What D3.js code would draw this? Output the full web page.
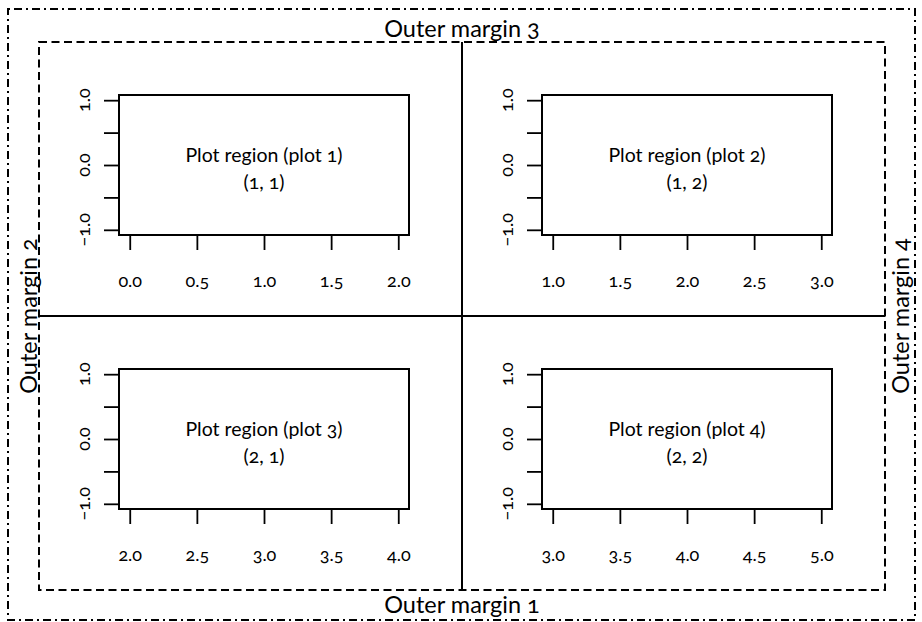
<!DOCTYPE html>
<html><head><meta charset="utf-8">
<script src="https://cdn.jsdelivr.net/npm/d3@7"></script>
<style>
body{margin:0;background:#fff;}
text{font-family:Lato,"Open Sans",sans-serif;font-variant-numeric:oldstyle-nums;fill:#000;}
</style></head>
<body>
<svg id="c" width="922" height="622"></svg>
<script>
// ---- data ----
const plotTitles = ["Plot region (plot 1)","Plot region (plot 2)","Plot region (plot 3)","Plot region (plot 4)"];
const plotCells  = ["(1, 1)","(1, 2)","(2, 1)","(2, 2)"];
const panelRows  = [0,0,1,1];
const panelCols  = [0,1,0,1];
const xDomains   = [[0,2],[1,3],[2,4],[3,5]];
const xTickVals  = [[0,0.5,1,1.5,2],[1,1.5,2,2.5,3],[2,2.5,3,3.5,4],[3,3.5,4,4.5,5]];
const yDomain    = [-1,1];
const yTickVals  = [-1,-0.5,0,0.5,1];
const yLabelVals = [-1,0,1];
const outerLabels = ["Outer margin 1","Outer margin 2","Outer margin 3","Outer margin 4"];

// ---- layout ----
const svg = d3.select("#c");
const outerBox = {x0:8, y0:9, x1:915, y1:620};
const inner = {x0:39, y0:42, x1:885, y1:590};
const midX = (inner.x0+inner.x1)/2, midY = (inner.y0+inner.y1)/2;
const cellW = midX - inner.x0, cellH = midY - inner.y0;
const mar = {l:80, r:53, t:53, b:81};
const ext = v => { const d=(v[1]-v[0])*0.04; return [v[0]-d, v[1]+d]; };
const tickFont = 18, panelFont = 19.5, outerFont = 23.5;

// outer dot-dash box
svg.append("rect").attr("x",outerBox.x0).attr("y",outerBox.y0)
  .attr("width",outerBox.x1-outerBox.x0).attr("height",outerBox.y1-outerBox.y0)
  .attr("fill","none").attr("stroke","#000").attr("stroke-width",2)
  .attr("stroke-dasharray","2,4,8,4");

// inner dashed box
svg.append("rect").attr("x",inner.x0).attr("y",inner.y0)
  .attr("width",inner.x1-inner.x0).attr("height",inner.y1-inner.y0)
  .attr("fill","none").attr("stroke","#000").attr("stroke-width",2)
  .attr("stroke-dasharray","8,4.5");

// dividers
svg.append("line").attr("x1",midX).attr("x2",midX).attr("y1",inner.y0).attr("y2",inner.y1)
  .attr("stroke","#000").attr("stroke-width",2);
svg.append("line").attr("x1",inner.x0).attr("x2",inner.x1).attr("y1",midY).attr("y2",midY)
  .attr("stroke","#000").attr("stroke-width",2);

// panels
plotTitles.forEach((title,i)=>{
  const fx = inner.x0 + panelCols[i]*cellW, fy = inner.y0 + panelRows[i]*cellH;
  const bx0 = fx+mar.l, bx1 = fx+cellW-mar.r, by0 = fy+mar.t, by1 = fy+cellH-mar.b;
  const x = d3.scaleLinear().domain(ext(xDomains[i])).range([bx0,bx1]);
  const y = d3.scaleLinear().domain(ext(yDomain)).range([by1,by0]);
  const g = svg.append("g");

  const xa = g.append("g").attr("transform",`translate(0,${by1})`)
    .call(d3.axisBottom(x).tickValues(xTickVals[i]).tickSize(15).tickPadding(24).tickFormat(d3.format(".1f")));
  xa.attr("font-size",null).attr("font-family",null);
  xa.select(".domain").remove();
  xa.selectAll("line").attr("stroke-width",1.8);
  xa.selectAll("text").style("font-size",tickFont+"px");

  const ya = g.append("g").attr("transform",`translate(${bx0},0)`)
    .call(d3.axisLeft(y).tickValues(yTickVals).tickSize(15).tickFormat(""));
  ya.select(".domain").remove();
  ya.selectAll("line").attr("stroke-width",1.8);

  g.selectAll(".ylab").data(yLabelVals).join("text")
    .attr("transform",d=>`translate(${bx0-29},${y(d)}) rotate(-90)`)
    .attr("text-anchor","middle").style("font-size",tickFont+"px")
    .text(d=>d3.format(".1f")(d));

  g.append("rect").attr("x",bx0).attr("y",by0).attr("width",bx1-bx0).attr("height",by1-by0)
    .attr("fill","none").attr("stroke","#000").attr("stroke-width",2);

  const cx=(bx0+bx1)/2, cy=(by0+by1)/2;
  g.append("text").attr("x",cx).attr("y",cy-3).attr("text-anchor","middle").style("font-size",panelFont+"px").text(title);
  g.append("text").attr("x",cx).attr("y",cy+24).attr("text-anchor","middle").style("font-size",panelFont+"px").text(plotCells[i]);
});

// outer margin labels
svg.append("text").attr("x",midX).attr("y",613).attr("text-anchor","middle").style("font-size",outerFont+"px").text(outerLabels[0]);
svg.append("text").attr("transform",`translate(37,${midY}) rotate(-90)`).attr("text-anchor","middle").style("font-size",outerFont+"px").text(outerLabels[1]);
svg.append("text").attr("x",midX).attr("y",37).attr("text-anchor","middle").style("font-size",outerFont+"px").text(outerLabels[2]);
svg.append("text").attr("transform",`translate(909,${midY}) rotate(-90)`).attr("text-anchor","middle").style("font-size",outerFont+"px").text(outerLabels[3]);
</script>
</body></html>
